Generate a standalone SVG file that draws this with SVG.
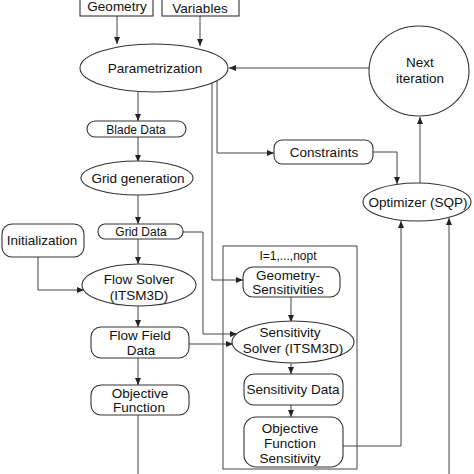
<svg xmlns="http://www.w3.org/2000/svg" width="474" height="474" viewBox="0 0 474 474">
<defs>
<marker id="ah" markerWidth="7" markerHeight="6" refX="7" refY="3" orient="auto" markerUnits="userSpaceOnUse">
<path d="M0,0 L7,3 L0,6 Z" fill="#222"/>
</marker>
<style>
.s{fill:#fff;stroke:#333;stroke-width:1.1}
.c{fill:none;stroke:#444;stroke-width:1}
.a{marker-end:url(#ah)}
text{font-family:"Liberation Sans",Arial,sans-serif;font-size:13.5px;fill:#111;text-anchor:middle}
.sm{font-size:12px}
</style>
</defs>
<rect width="474" height="474" fill="#fff"/>
<g id="connectors">
<path class="c a" d="M117,16 V44"/>
<path class="c a" d="M200,16 V46"/>
<path class="c a" d="M369,68 H229"/>
<path class="c a" d="M138,92 V121"/>
<path class="c a" d="M138,137 V162"/>
<path class="c a" d="M138,195 V224"/>
<path class="c a" d="M138,239 V264"/>
<path class="c a" d="M138,306 V327"/>
<path class="c a" d="M138,358 V385"/>
<path class="c" d="M138,415 V474"/>
<path class="c a" d="M217,81 V153 H274"/>
<path class="c a" d="M212,83 V280 H243"/>
<path class="c a" d="M373,152 H397 V184"/>
<path class="c a" d="M420,183 V117"/>
<path class="c a" d="M183,232 H203 V334 H237"/>
<path class="c a" d="M189,344 H233"/>
<path class="c a" d="M38,257 V290 H84"/>
<path class="c a" d="M291,297 V322"/>
<path class="c a" d="M291,363 V374"/>
<path class="c a" d="M291,405 V417"/>
<path class="c a" d="M343,446 H401 V221"/>
<path class="c a" d="M449,474 V218"/>
</g>
<g id="loop">
<rect x="223" y="246" width="134" height="223" fill="none" stroke="#444" stroke-width="1"/>
<text class="sm" x="288" y="260">I=1,...,nopt</text>
</g>
<g id="geometry">
<rect class="s" x="80" y="-3" width="73" height="19"/>
<text x="117" y="11">Geometry</text>
</g>
<g id="variables">
<rect class="s" x="162" y="-3" width="77" height="19"/>
<text x="200" y="13">Variables</text>
</g>
<g id="parametrization">
<ellipse class="s" cx="154" cy="68" rx="74" ry="24"/>
<text x="155" y="73">Parametrization</text>
</g>
<g id="next-iteration">
<ellipse class="s" cx="419" cy="71" rx="50" ry="45"/>
<text x="420" y="67">Next</text>
<text x="420" y="83">iteration</text>
</g>
<g id="blade-data">
<rect class="s" x="87" y="121" width="99" height="16" rx="8"/>
<text class="sm" x="136" y="133.5">Blade Data</text>
</g>
<g id="constraints">
<rect class="s" x="274" y="140" width="99" height="24" rx="8"/>
<text x="324" y="157">Constraints</text>
</g>
<g id="grid-generation">
<ellipse class="s" cx="137" cy="178" rx="56" ry="17"/>
<text x="138" y="183">Grid generation</text>
</g>
<g id="optimizer">
<ellipse class="s" cx="417" cy="202" rx="54" ry="19"/>
<text x="418" y="207">Optimizer (SQP)</text>
</g>
<g id="grid-data">
<rect class="s" x="98" y="224" width="85" height="15" rx="7"/>
<text class="sm" x="141" y="236">Grid Data</text>
</g>
<g id="initialization">
<rect class="s" x="2" y="224" width="82" height="33" rx="10"/>
<text x="42" y="245">Initialization</text>
</g>
<g id="flow-solver">
<ellipse class="s" cx="139" cy="285" rx="57" ry="21"/>
<text x="139" y="284">Flow Solver</text>
<text x="139" y="300">(ITSM3D)</text>
</g>
<g id="geometry-sensitivities">
<rect class="s" x="243" y="267" width="97" height="30" rx="10"/>
<text x="288" y="280">Geometry-</text>
<text x="288" y="294">Sensitivities</text>
</g>
<g id="flow-field-data">
<rect class="s" x="91" y="327" width="98" height="31" rx="10"/>
<text x="140" y="340">Flow Field</text>
<text x="141" y="355">Data</text>
</g>
<g id="sensitivity-solver">
<ellipse class="s" cx="293" cy="342" rx="61" ry="21"/>
<text x="290" y="337">Sensitivity</text>
<text x="293" y="353">Solver (ITSM3D)</text>
</g>
<g id="objective-function">
<rect class="s" x="91" y="385" width="98" height="30" rx="10"/>
<text x="140" y="398">Objective</text>
<text x="139" y="412">Function</text>
</g>
<g id="sensitivity-data">
<rect class="s" x="244" y="374" width="99" height="31" rx="10"/>
<text x="293" y="394">Sensitivity Data</text>
</g>
<g id="objective-function-sensitivity">
<rect class="s" x="244" y="417" width="99" height="50" rx="12"/>
<text x="290" y="433">Objective</text>
<text x="290" y="448">Function</text>
<text x="290" y="463">Sensitivity</text>
</g>
</svg>
